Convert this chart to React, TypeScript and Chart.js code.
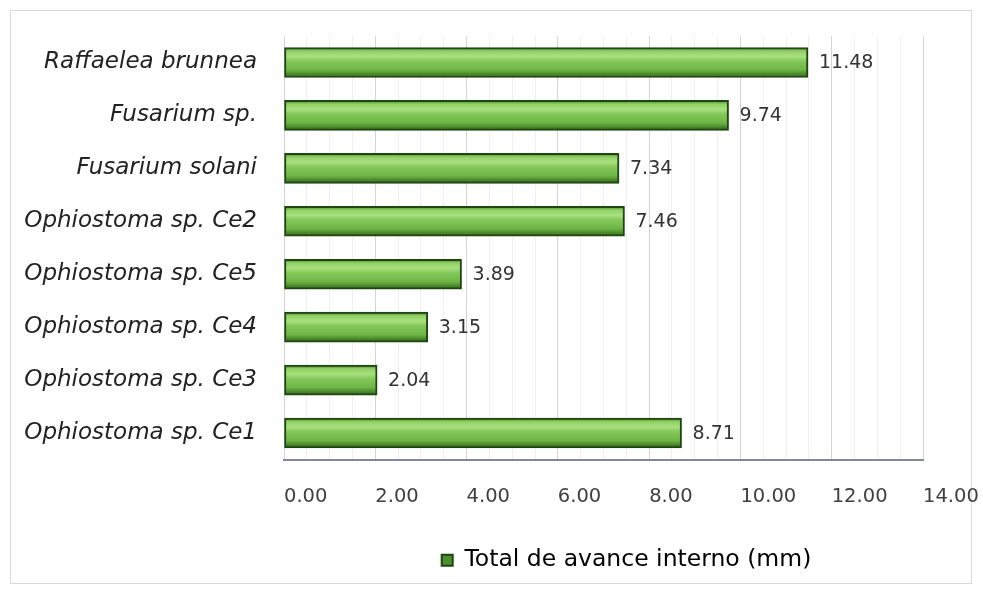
import React, { useEffect, useRef } from "react";
import { Chart, registerables } from "chart.js";

Chart.register(...registerables);

const categories = [
  "Raffaelea brunnea",
  "Fusarium sp.",
  "Fusarium solani",
  "Ophiostoma sp. Ce2",
  "Ophiostoma sp. Ce5",
  "Ophiostoma sp. Ce4",
  "Ophiostoma sp. Ce3",
  "Ophiostoma sp. Ce1",
];
const values = [11.48, 9.74, 7.34, 7.46, 3.89, 3.15, 2.04, 8.71];
const seriesName = "Total de avance interno (mm)";
const xMin = 0;
const xMax = 14;

const FONT = "'DejaVu Sans', 'Liberation Sans', sans-serif";
const BAR_H = 30;

export default function App() {
  const ref = useRef<HTMLCanvasElement | null>(null);

  useEffect(() => {
    document.body.style.margin = "0";
    const canvas = ref.current;
    if (!canvas) return;

    const barFill = (ctx: any) => {
      const chart = ctx.chart;
      const ys = chart.scales && chart.scales.y;
      if (!ys || ctx.dataIndex === undefined) return "#6cbf45";
      const yc = ys.getPixelForValue(ctx.dataIndex);
      const top = yc - BAR_H / 2;
      const g = chart.ctx.createLinearGradient(0, top, 0, top + BAR_H);
      g.addColorStop(0, "#3d7a1e");
      g.addColorStop(0.12, "#8fd065");
      g.addColorStop(0.3, "#a9e07f");
      g.addColorStop(0.45, "#84c95a");
      g.addColorStop(0.75, "#6db544");
      g.addColorStop(1, "#2f6416");
      return g;
    };

    const valueLabels = {
      id: "valueLabels",
      afterDatasetsDraw(chart: any) {
        const c = chart.ctx;
        const meta = chart.getDatasetMeta(0);
        c.save();
        c.font = `19px ${FONT}`;
        c.fillStyle = "#333333";
        c.textAlign = "left";
        c.textBaseline = "middle";
        meta.data.forEach((el: any, i: number) => {
          c.fillText(values[i].toFixed(2), el.x + 11, el.y + 1);
        });
        c.restore();
      },
    };

    const legendShift = {
      id: "legendShift",
      afterLayout(chart: any) {
        const lg = chart.legend;
        if (!lg) return;
        const area = chart.chartArea;
        const w = lg.right - lg.left;
        const center = (area.left + area.right) / 2 + 23;
        lg.left = center - w / 2;
        lg.right = lg.left + w;
      },
    };

    const chart = new Chart(canvas, {
      type: "bar",
      data: {
        labels: categories,
        datasets: [
          {
            label: seriesName,
            data: values,
            backgroundColor: barFill,
            borderColor: "#1f4510",
            borderWidth: 2,
            borderSkipped: false,
            barThickness: BAR_H,
          },
        ],
      },
      plugins: [valueLabels, legendShift],
      options: {
        indexAxis: "y",
        animation: false,
        responsive: false,
        maintainAspectRatio: false,
        layout: { padding: { left: 10, right: 60, top: 36, bottom: 9 } },
        scales: {
          x: {
            min: xMin,
            max: xMax,
            afterFit: (s: any) => {
              s.height = 79;
              s.paddingLeft = 0;
              s.paddingRight = 0;
            },
            ticks: {
              stepSize: 0.5,
              autoSkip: false,
              maxRotation: 0,
              align: "start",
              padding: 26,
              color: "#404040",
              font: { family: FONT, size: 19.5 },
              callback: (v: any) => {
                const n = Number(v);
                return Math.abs(n / 2 - Math.round(n / 2)) < 1e-6 ? n.toFixed(2) : "";
              },
            },
            grid: {
              drawTicks: false,
              color: (ctx: any) => {
                const v = ctx.tick ? ctx.tick.value : 0;
                return Math.abs(v / 2 - Math.round(v / 2)) < 1e-6 ? "#d4d4d4" : "#efefef";
              },
              lineWidth: 1,
            },
            border: { display: true, color: "#7f8aa0", width: 2 },
          },
          y: {
            afterFit: (s: any) => {
              s.width = 274;
              s.paddingTop = 0;
              s.paddingBottom = 0;
            },
            ticks: {
              padding: 27,
              color: "#222222",
              font: { family: FONT, size: 23, style: "italic" },
            },
            grid: { display: false, drawTicks: false },
            border: { display: false },
          },
        },
        plugins: {
          legend: {
            position: "bottom",
            labels: {
              color: "#333333",
              font: { family: FONT, size: 23.5 },
              boxWidth: 11,
              boxHeight: 11,
              padding: 10,
              generateLabels: () => [
                {
                  text: seriesName,
                  fillStyle: "#4c8f2c",
                  strokeStyle: "#1f4510",
                  lineWidth: 2,
                  datasetIndex: 0,
                  hidden: false,
                } as any,
              ],
            },
          },
          tooltip: { enabled: false },
        },
      },
    } as any);

    return () => chart.destroy();
  }, []);

  return (
    <div style={{ position: "relative", width: 983, height: 591, background: "#ffffff" }}>
      <div
        style={{
          position: "absolute",
          left: 10,
          top: 10,
          width: 962,
          height: 574,
          border: "1px solid #d9d9d9",
          boxSizing: "border-box",
        }}
      />
      <canvas ref={ref} width={983} height={591} style={{ position: "absolute", left: 0, top: 0, display: "block" }} />
    </div>
  );
}
